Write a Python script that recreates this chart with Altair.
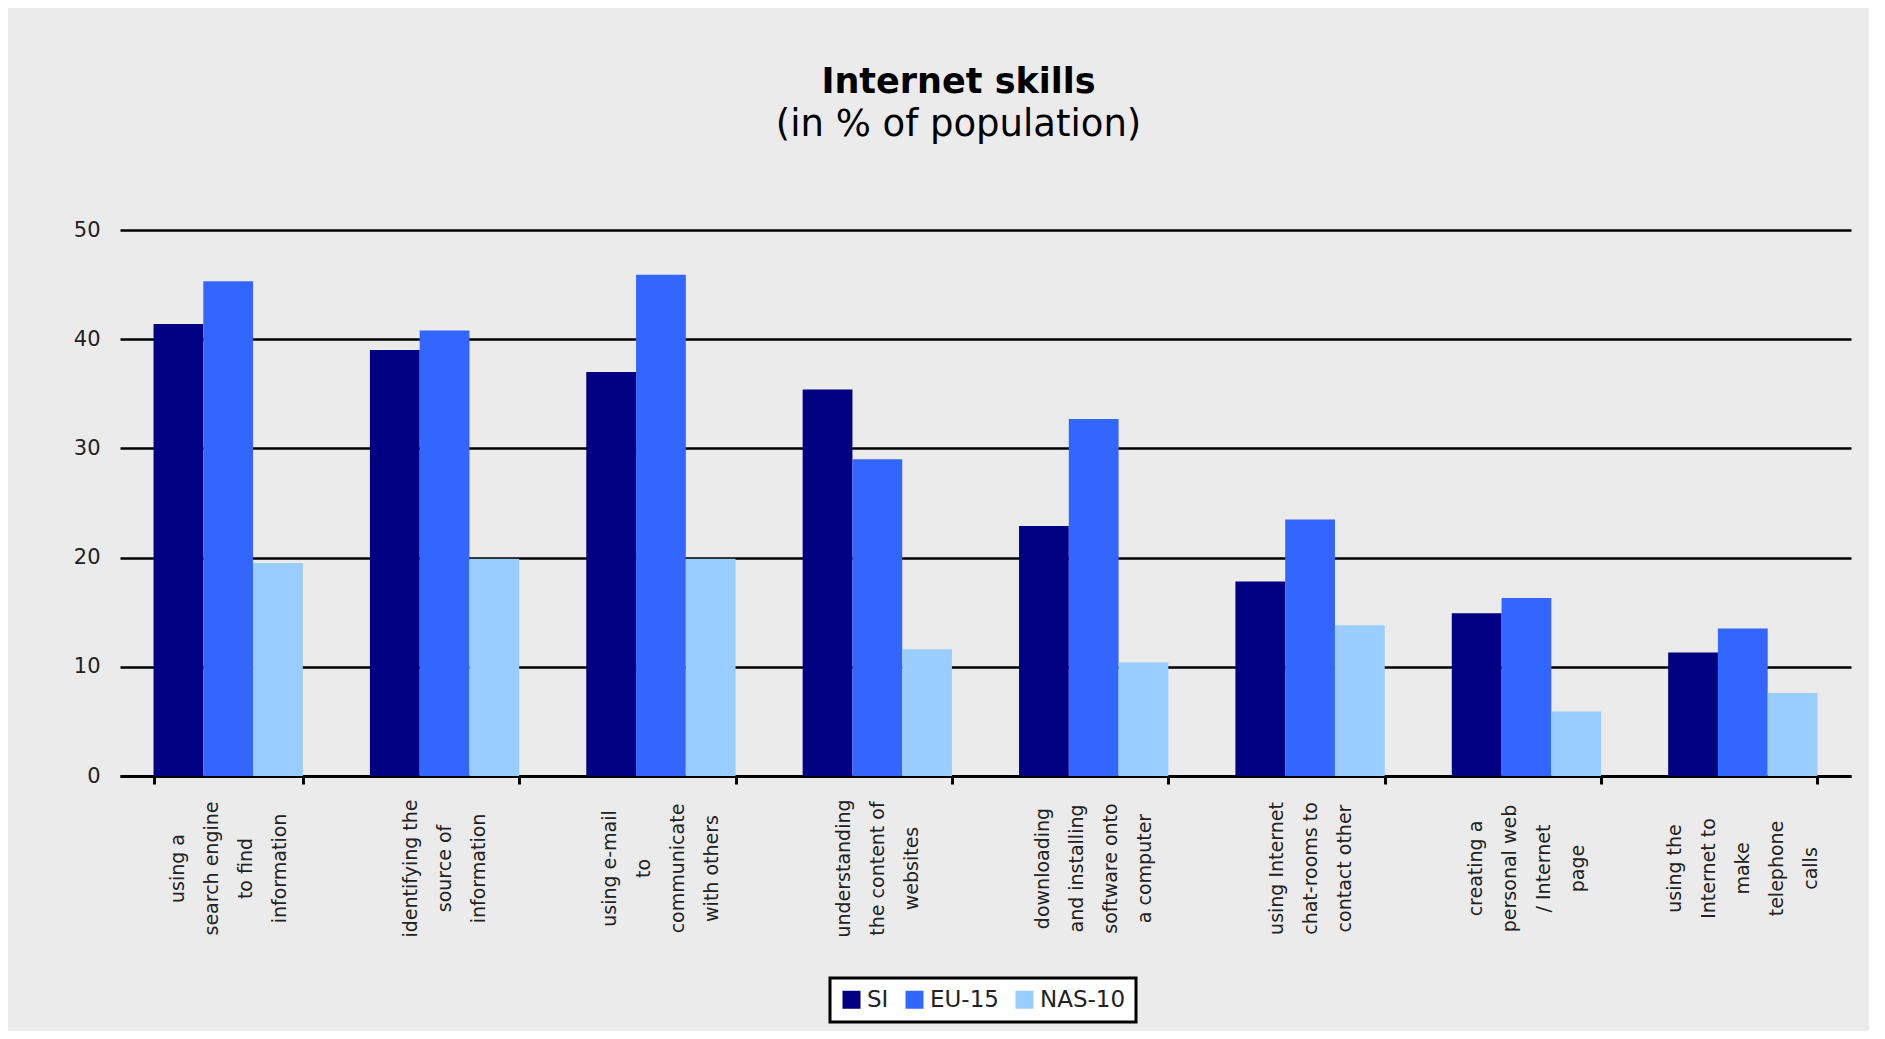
import altair as alt
import pandas as pd

categories = [
    "using a|search engine|to find|information",
    "identifying the|source of|information",
    "using e-mail|to|communicate|with others",
    "understanding|the content of|websites",
    "downloading|and installing|software onto|a computer",
    "using Internet|chat-rooms to|contact other",
    "creating a|personal web|/ Internet|page",
    "using the|Internet to|make|telephone|calls",
]
series = ["SI", "EU-15", "NAS-10"]
si = [41.4, 39.0, 37.0, 35.4, 22.9, 17.8, 14.9, 11.3]
eu15 = [45.3, 40.8, 45.9, 29.0, 32.7, 23.5, 16.3, 13.5]
nas10 = [19.5, 19.9, 19.9, 11.6, 10.4, 13.8, 5.9, 7.6]
colors = ["#000080", "#3366ff", "#99ccff"]
y_ticks = [0, 10, 20, 30, 40, 50]

rows = []
for name, vals in zip(series, [si, eu15, nas10]):
    for c, v in zip(categories, vals):
        rows.append({"skill": c, "series": name, "value": v})
df = pd.DataFrame(rows)

FONT = "DejaVu Sans"
LINE_H = 34

chart = alt.Chart(df).mark_bar().encode(
    x=alt.X(
        "skill:N",
        sort=categories,
        scale=alt.Scale(paddingInner=0.31, paddingOuter=0.155),
        axis=alt.Axis(
            title=None,
            labelExpr="datum.value ? split(datum.value, '|') : ''",
            labelAngle=270,
            labelAlign="center",
            labelBaseline="middle",
            labelOffset=alt.ExprRef(
                f"datum.value ? -(length(split(datum.value, '|')) - 1) * {LINE_H / 2} : 0"
            ),
            labelFont=FONT,
            labelFontSize=19,
            labelLineHeight=LINE_H,
            labelColor="#222222",
            labelPadding=84,
            tickBand="extent",
            tickSize=8,
            tickWidth=3,
            tickColor="black",
            domainColor="black",
            domainWidth=3,
            grid=False,
        ),
    ),
    xOffset=alt.XOffset(
        "series:N", sort=series, scale=alt.Scale(paddingInner=0, paddingOuter=0)
    ),
    y=alt.Y(
        "value:Q",
        scale=alt.Scale(domain=[0, 50]),
        axis=alt.Axis(
            title=None,
            values=y_ticks,
            domain=False,
            ticks=False,
            grid=True,
            gridColor="black",
            gridWidth=2.5,
            labelFont=FONT,
            labelFontSize=21,
            labelColor="#222222",
            labelPadding=20,
        ),
    ),
    color=alt.Color(
        "series:N",
        sort=series,
        scale=alt.Scale(domain=series, range=colors),
        legend=alt.Legend(
            title=None,
            orient="none",
            legendX=710,
            legendY=748,
            direction="horizontal",
            symbolType="square",
            symbolSize=324,
            symbolStrokeWidth=0,
            symbolOpacity=1,
            labelFont=FONT,
            labelFontSize=23,
            labelColor="#222222",
            labelOffset=4,
            columnPadding=14,
            padding=10,
            fillColor="white",
            strokeColor="black",
        ),
    ),
).properties(
    width=1731,
    height=546,
    title=alt.TitleParams(
        text="Internet skills",
        subtitle="(in % of population)",
        font=FONT,
        fontSize=35,
        fontWeight="bold",
        color="black",
        subtitleFont=FONT,
        subtitleFontSize=37,
        subtitleColor="black",
        subtitlePadding=7,
        anchor="middle",
        frame="group",
        dx=-27,
        offset=76,
    ),
    background="#ebebeb",
    autosize=alt.AutoSizeParams(type="none"),
    padding={"left": 112, "top": 222, "right": 18, "bottom": 255},
).configure_view(stroke=None).configure_legend(strokeWidth=3)

chart.save("out.html", embed_options={"renderer": "svg", "actions": False})
